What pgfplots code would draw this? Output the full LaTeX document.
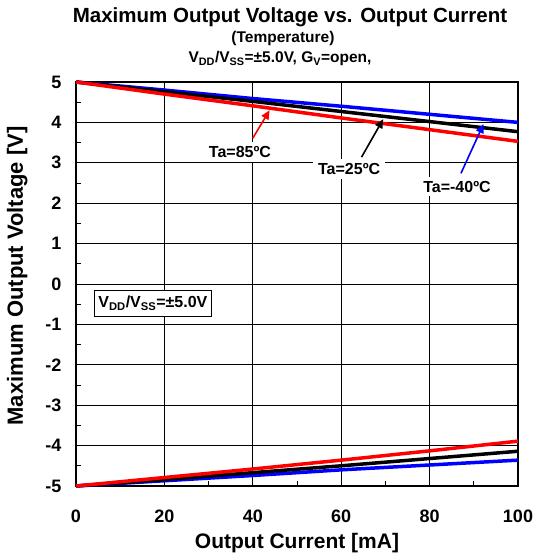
\documentclass[border=0pt]{standalone}
\usepackage{fontspec}
\setmainfont{Liberation Sans}
\usepackage{pgfplots}
\pgfplotsset{compat=1.18}
\usetikzlibrary{arrows.meta}

\begin{document}
\begin{tikzpicture}
\begin{axis}[
  scale only axis,
  width=442pt, height=404pt,
  xmin=0, xmax=100, ymin=-5, ymax=5,
  xtick={0,20,...,100}, ytick={-5,-4,...,5},
  minor xtick={10,30,...,90}, minor ytick={-4.5,-3.5,...,4.5},
  grid=major, major grid style={black, line width=0.9pt},
  tick pos=left, tick align=inside,
  major tick length=0pt, minor tick length=5pt,
  every tick/.style={black, line width=0.9pt},
  axis line style={line width=1.2pt},
  /pgf/number format/assume math mode=true,
  ticklabel style={font=\fontsize{18}{18}\selectfont\bfseries},
  xticklabel style={yshift=-20pt},
  yticklabel style={xshift=-11pt},
  xlabel={Output Current [mA]},
  ylabel={Maximum Output Voltage [V]},
  xlabel style={font=\fontsize{21}{21}\selectfont\bfseries,
    at={(axis description cs:0.5,0)}, anchor=center, yshift=-57pt},
  ylabel style={font=\fontsize{22}{22}\selectfont\bfseries,
    at={(axis description cs:-0.133,0.52)}, anchor=center},
  clip=false,
]
% Ta=-40C
\addplot[blue, line width=3.5pt] coordinates {(0,5) (20,4.8) (40,4.59) (60,4.4) (80,4.2) (100,4.0)};
\addplot[blue, line width=3.5pt] coordinates {(0,-5) (20,-4.87) (40,-4.74) (60,-4.6) (80,-4.48) (100,-4.36)};
% Ta=25C
\addplot[black, line width=3.5pt] coordinates {(0,5) (20,4.76) (40,4.52) (60,4.27) (80,4.02) (100,3.77)};
\addplot[black, line width=3.5pt] coordinates {(0,-5) (20,-4.84) (40,-4.67) (60,-4.5) (80,-4.32) (100,-4.14)};
% Ta=85C
\addplot[red, line width=3.5pt] coordinates {(0,5) (20,4.7) (40,4.41) (60,4.11) (80,3.82) (100,3.53)};
\addplot[red, line width=3.5pt] coordinates {(0,-5) (20,-4.79) (40,-4.58) (60,-4.36) (80,-4.13) (100,-3.89)};

% annotations
\tikzset{lab/.style={fill=white, inner xsep=5pt, inner ysep=4pt, font=\fontsize{16}{16}\selectfont\bfseries}}
\draw[red, line width=1.6pt, -{Triangle[length=9pt,width=8pt]}] (axis cs:40.0,3.61) -- (axis cs:43.8,4.3);
\draw[black, line width=1.6pt, -{Triangle[length=9pt,width=8pt]}] (axis cs:64.6,3.14) -- (axis cs:69.5,4.08);
\draw[blue, line width=1.6pt, -{Triangle[length=9pt,width=8pt]}] (axis cs:87.1,2.74) -- (axis cs:92.2,3.96);
\node[lab] at (axis cs:37.1,3.27) {Ta=85ºC};
\node[lab] at (axis cs:61.8,2.85) {Ta=25ºC};
\node[lab] at (axis cs:86.2,2.41) {Ta=-40ºC};
\node[draw=black, line width=0.8pt, fill=white, inner xsep=4pt, inner ysep=6pt,
      font=\fontsize{16}{16}\selectfont\bfseries] at (axis cs:17.4,-0.48)
      {V\textsubscript{DD}/V\textsubscript{SS}=±5.0V};

% titles
\node[font=\fontsize{20.5}{20.5}\selectfont\bfseries] at ([xshift=-7pt,yshift=65pt]axis description cs:0.5,1)
  {Maximum Output Voltage vs. Output Current};
\node[font=\fontsize{15.5}{15.5}\selectfont\bfseries] at ([xshift=-14pt,yshift=43pt]axis description cs:0.5,1)
  {(Temperature)};
\node[font=\fontsize{15.5}{15.5}\selectfont\bfseries] at ([xshift=-17pt,yshift=23pt]axis description cs:0.5,1)
  {V\textsubscript{DD}/V\textsubscript{SS}=±5.0V, G\textsubscript{V}=open,};
\coordinate (O) at (axis description cs:0,0);
\end{axis}
\pgfresetboundingbox
\path[use as bounding box] ([xshift=-76pt,yshift=-74pt]O) rectangle ([xshift=461pt,yshift=486pt]O);
\end{tikzpicture}
\end{document}
